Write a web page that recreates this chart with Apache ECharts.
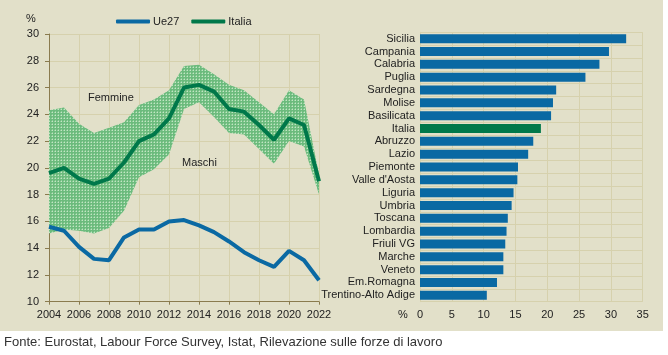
<!DOCTYPE html>
<html>
<head>
<meta charset="utf-8">
<script src="https://cdn.jsdelivr.net/npm/echarts@6/dist/echarts.min.js"></script>
<style>
html,body{margin:0;padding:0;background:#fff;}
#c{width:668px;height:355px;}
</style>
</head>
<body>
<div id="c"></div>
<script>
const years = ['2004','2005','2006','2007','2008','2009','2010','2011','2012','2013','2014','2015','2016','2017','2018','2019','2020','2021','2022'];
const ue27 = [15.6,15.3,14.1,13.2,13.1,14.8,15.4,15.4,16.0,16.1,15.7,15.2,14.5,13.7,13.1,12.6,13.8,13.1,11.6];
const italia = [19.6,20.0,19.2,18.8,19.2,20.4,22.0,22.5,23.7,26.0,26.2,25.7,24.4,24.2,23.2,22.1,23.7,23.2,19.0];
const femmine = [24.3,24.5,23.3,22.6,23.0,23.4,24.7,25.1,25.8,27.6,27.7,27.0,26.2,25.8,24.9,24.0,25.8,25.1,19.5];
const maschi = [15.1,15.4,15.3,15.1,15.5,16.8,19.3,19.9,21.0,24.4,24.9,23.8,22.6,22.5,21.4,20.3,22.0,21.6,18.0];
const regions = ['Sicilia','Campania','Calabria','Puglia','Sardegna','Molise','Basilicata','Italia','Abruzzo','Lazio','Piemonte',"Valle d'Aosta",'Liguria','Umbria','Toscana','Lombardia','Friuli VG','Marche','Veneto','Em.Romagna','Trentino-Alto Adige'];
const regionValues = [32.4,29.7,28.2,26.0,21.4,20.9,20.6,19.0,17.8,17.0,15.4,15.3,14.7,14.4,13.8,13.6,13.4,13.1,13.1,12.1,10.5];
const leftTicks = [10,12,14,16,18,20,22,24,26,28,30];
const rightTicks = [0,5,10,15,20,25,30,35];

const BG = '#e2e0c9';
const GRID = '#d6d1ad';
const AXIS = '#8a7b4e';
const BLUE = '#0a69a3';
const GREEN = '#00784a';
const TXT = '#222';
const FONT = 'Liberation Sans, Arial, sans-serif';

// dotted band pattern
const pc = document.createElement('canvas');
pc.width = 3; pc.height = 3;
const px = pc.getContext('2d');
px.fillStyle = '#6cbb7d'; px.fillRect(0,0,3,3);
px.fillStyle = '#c2e6c4'; px.fillRect(1,1,1,1);
px.fillStyle = '#92cf9c'; px.fillRect(0,1,1,1); px.fillRect(1,0,1,1);

const bandDiff = femmine.map((v,i)=> +(v - maschi[i]).toFixed(2));

const chart = echarts.init(document.getElementById('c'), null, {renderer:'canvas'});
chart.setOption({
  backgroundColor: '#fff',
  animation: false,
  textStyle: {fontFamily: FONT},
  graphic: [
    {type:'rect', shape:{x:0,y:0,width:663,height:331}, style:{fill:BG}, z:-10, silent:true},
    {type:'text', left:26, top:13, style:{text:'%', font:'11px '+FONT, fill:TXT}},
    {type:'text', left:398, top:309, style:{text:'%', font:'11px '+FONT, fill:TXT}},
    {type:'text', left:88, top:92, style:{text:'Femmine', font:'11px '+FONT, fill:TXT}, z:50},
    {type:'text', left:182, top:157, style:{text:'Maschi', font:'11px '+FONT, fill:TXT}, z:50},
    {type:'text', left:4, top:336, style:{text:'Fonte: Eurostat, Labour Force Survey, Istat, Rilevazione sulle forze di lavoro', font:'13px '+FONT, fill:'#333'}}
  ],
  legend: {
    data: ['Ue27','Italia'],
    left: 111, top: 11,
    icon: 'roundRect',
    itemWidth: 34, itemHeight: 4, itemGap: 12,
    textStyle: {fontSize: 11, color: TXT, fontFamily: FONT, padding:[0,0,0,-2]}
  },
  grid: [
    {left: 49, top: 34, width: 270, height: 267.7},
    {left: 420, top: 32.3, width: 222.7, height: 269.4}
  ],
  xAxis: [
    {type:'category', gridIndex:0, data: years, boundaryGap:false,
     axisLine:{lineStyle:{color:AXIS, width:1}},
     axisTick:{show:true, interval:1, length:3, lineStyle:{color:AXIS}},
     axisLabel:{interval:1, color:TXT, fontSize:11, margin:8, fontFamily:FONT},
     splitLine:{show:true, interval:1, lineStyle:{color:GRID, width:1}}},
    {type:'value', gridIndex:1, min:0, max:35, interval:5,
     axisLine:{show:false}, axisTick:{show:false},
     axisLabel:{color:TXT, fontSize:11, margin:8, fontFamily:FONT},
     splitLine:{show:true, lineStyle:{color:GRID, width:1}}}
  ],
  yAxis: [
    {type:'value', gridIndex:0, min:10, max:30, interval:2,
     axisLine:{show:true, lineStyle:{color:AXIS, width:1}},
     axisTick:{show:true, length:4, inside:false, lineStyle:{color:AXIS}},
     axisLabel:{color:TXT, fontSize:11, margin:10, fontFamily:FONT},
     splitLine:{show:true, lineStyle:{color:GRID, width:1}}},
    {type:'category', gridIndex:1, data: regions, inverse:true,
     axisLine:{show:true, lineStyle:{color:GRID, width:1}},
     axisTick:{show:false},
     axisLabel:{interval:0, color:TXT, fontSize:11, margin:5, fontFamily:FONT},
     splitLine:{show:true, interval:0, lineStyle:{color:GRID, width:1}}}
  ],
  series: [
    {name:'lower', type:'line', xAxisIndex:0, yAxisIndex:0, data: maschi, stack:'band',
     symbol:'none', lineStyle:{opacity:0}, silent:true, z:1},
    {name:'band', type:'line', xAxisIndex:0, yAxisIndex:0, data: bandDiff, stack:'band',
     symbol:'none', lineStyle:{opacity:0}, silent:true, z:1,
     areaStyle:{color:{image: pc, repeat:'repeat'}, opacity:1}},
    {name:'Ue27', type:'line', xAxisIndex:0, yAxisIndex:0, data: ue27,
     symbol:'none', lineStyle:{color:BLUE, width:4}, itemStyle:{color:BLUE}, z:5},
    {name:'Italia', type:'line', xAxisIndex:0, yAxisIndex:0, data: italia,
     symbol:'none', lineStyle:{color:GREEN, width:4}, itemStyle:{color:GREEN}, z:6},
    {name:'regions', type:'bar', xAxisIndex:1, yAxisIndex:1,
     data: regionValues.map((v,i)=> regions[i]==='Italia' ? {value:v, itemStyle:{color:GREEN}} : v),
     barWidth: 9, itemStyle:{color:BLUE}, z:5}
  ]
});
</script>
</body>
</html>
